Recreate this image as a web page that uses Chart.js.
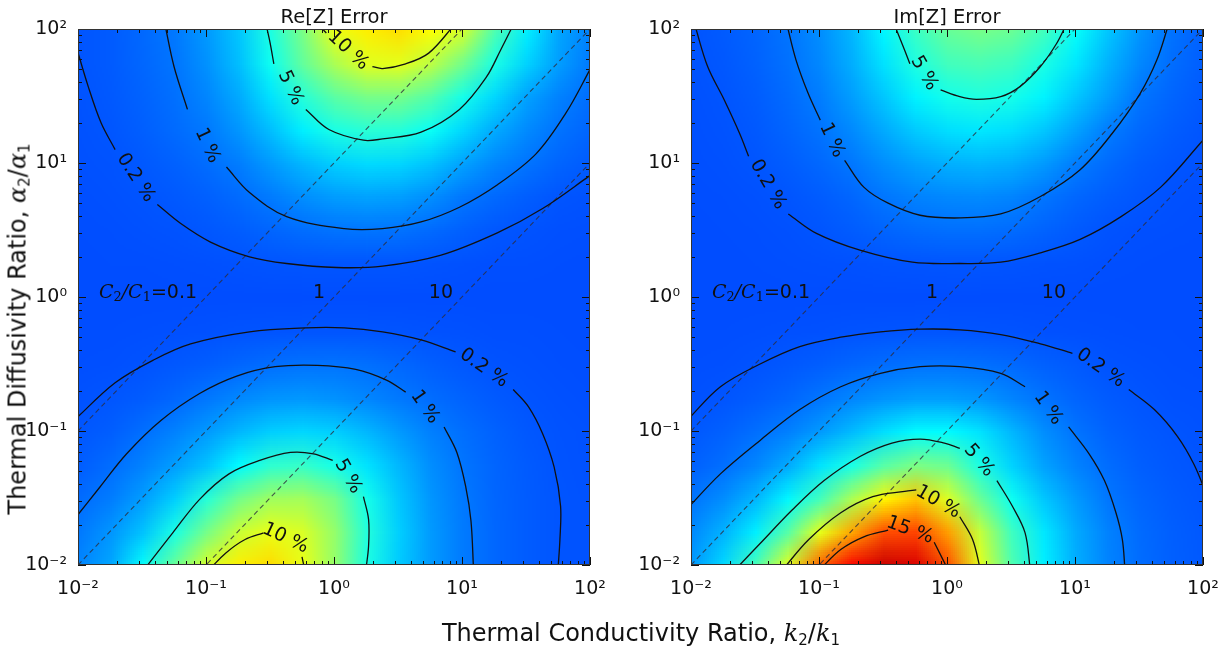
<!DOCTYPE html>
<html>
<head>
<meta charset="utf-8">
<script src="https://cdn.jsdelivr.net/npm/chart.js@4.4.1/dist/chart.umd.min.js"></script>
<style>
    body { margin: 0; background: #fff; width: 1228px; height: 656px; position: relative; overflow: hidden; font-family: "DejaVu Sans", sans-serif; color: #111; }
    canvas { position: absolute; top: 0; }
    .ptitle { position: absolute; top: 5px; width: 240px; text-align: center; font-size: 19.5px; line-height: 24px; }
    .axtitle { position: absolute; font-size: 24px; line-height: 28px; white-space: nowrap; }
    .m { font-family: "DejaVu Serif", serif; font-style: italic; }
    .axtitle sub { font-size: 15px; font-style: normal; vertical-align: -4px; }
</style>
</head>
<body>
<canvas id="chartRe" width="614" height="656" style="left:0"></canvas>
<canvas id="chartIm" width="614" height="656" style="left:614px"></canvas>
<div class="ptitle" style="left:214px">Re[Z] Error</div>
<div class="ptitle" style="left:827px">Im[Z] Error</div>
<div class="axtitle" style="left:641px;top:636px;transform:translate(-50%,-50%)">Thermal Conductivity Ratio, <span class="m">k</span><sub>2</sub>/<span class="m">k</span><sub>1</sub></div>
<div class="axtitle" style="left:21px;top:329px;transform:translate(-50%,-50%) rotate(-90deg)">Thermal Diffusivity Ratio, <span class="m">α</span><sub>2</sub>/<span class="m">α</span><sub>1</sub></div>

<script>
// grid exponents (log10) for both axes, and axis ticks
var gridExp = [-2, -1.75, -1.5, -1.25, -1, -0.75, -0.5, -0.25, 0, 0.25, 0.5, 0.75, 1, 1.25, 1.5, 1.75, 2];
var tickValues = [0.01, 0.1, 1, 10, 100];
var tickLabels = ['10⁻²', '10⁻¹', '10⁰', '10¹', '10²'];

// heat capacity ratios of the dashed lines
var cRatios = [0.1, 1, 10];
var cLabels = ['=0.1', '1', '10'];

// error (%) on the grid, rows from alpha ratio 10^2 (top) down to 10^-2
var reError = [
    [0.20, 0.35, 0.70, 1.10, 1.90, 3.00, 5.10, 7.40, 10.2, 11.0, 11.4, 10.6, 9.60, 6.30, 4.00, 2.20, 1.30],
    [0.22, 0.35, 0.65, 1.00, 1.70, 2.80, 4.70, 6.80, 8.60, 9.90, 10.0, 9.00, 7.20, 5.00, 3.30, 2.00, 1.10],
    [0.17, 0.30, 0.55, 0.88, 1.40, 2.30, 3.70, 5.30, 6.60, 7.30, 7.30, 6.40, 4.90, 3.40, 2.10, 1.30, 0.80],
    [0.14, 0.24, 0.45, 0.75, 1.10, 1.80, 2.80, 4.00, 5.00, 5.40, 5.30, 4.60, 3.40, 2.30, 1.50, 0.95, 0.60],
    [0.11, 0.17, 0.30, 0.50, 0.80, 1.20, 1.90, 2.60, 3.20, 3.50, 3.40, 2.90, 2.10, 1.40, 0.98, 0.60, 0.35],
    [0.07, 0.11, 0.18, 0.30, 0.48, 0.75, 1.15, 1.60, 1.95, 2.10, 2.00, 1.60, 1.05, 0.70, 0.42, 0.22, 0.13],
    [0.04, 0.06, 0.10, 0.16, 0.25, 0.40, 0.60, 0.80, 0.95, 1.00, 0.92, 0.72, 0.48, 0.25, 0.15, 0.08, 0.05],
    [0.02, 0.03, 0.04, 0.06, 0.09, 0.13, 0.18, 0.20, 0.21, 0.21, 0.20, 0.16, 0.11, 0.07, 0.05, 0.03, 0.02],
    [0.01, 0.01, 0.01, 0.01, 0.01, 0.01, 0.01, 0.01, 0.01, 0.01, 0.01, 0.01, 0.01, 0.01, 0.01, 0.01, 0.01],
    [0.03, 0.04, 0.06, 0.08, 0.11, 0.15, 0.19, 0.20, 0.21, 0.20, 0.18, 0.14, 0.10, 0.07, 0.05, 0.03, 0.02],
    [0.06, 0.09, 0.16, 0.27, 0.42, 0.62, 0.82, 0.95, 0.96, 0.86, 0.68, 0.45, 0.28, 0.16, 0.10, 0.07, 0.04],
    [0.13, 0.23, 0.38, 0.65, 1.05, 1.45, 1.75, 1.85, 1.70, 1.40, 1.10, 0.80, 0.55, 0.33, 0.18, 0.11, 0.07],
    [0.25, 0.42, 0.85, 1.30, 1.90, 2.60, 3.20, 3.40, 3.20, 2.60, 1.90, 1.25, 0.85, 0.52, 0.28, 0.16, 0.10],
    [0.40, 0.80, 1.30, 2.00, 2.90, 4.30, 5.50, 5.70, 4.90, 3.70, 2.60, 1.60, 1.00, 0.60, 0.35, 0.19, 0.12],
    [0.75, 1.20, 2.00, 3.20, 5.30, 7.20, 8.30, 8.40, 7.30, 4.90, 3.00, 1.80, 1.10, 0.62, 0.37, 0.21, 0.13],
    [1.10, 1.80, 2.90, 5.00, 7.30, 9.30, 10.1, 9.70, 8.00, 5.20, 3.20, 1.90, 1.15, 0.65, 0.38, 0.22, 0.14],
    [1.40, 2.20, 4.50, 7.00, 9.70, 11.0, 11.5, 10.1, 8.00, 5.00, 3.10, 1.90, 1.15, 0.65, 0.38, 0.21, 0.13]
];
var imError = [
    [0.19, 0.35, 0.60, 0.98, 1.60, 2.60, 4.20, 5.80, 6.90, 7.30, 7.00, 6.00, 4.50, 3.00, 1.80, 0.95, 0.50],
    [0.15, 0.28, 0.52, 0.90, 1.45, 2.40, 3.70, 5.10, 6.00, 6.20, 5.90, 5.00, 3.80, 2.50, 1.45, 0.80, 0.42],
    [0.12, 0.20, 0.40, 0.75, 1.20, 2.00, 3.00, 4.10, 4.85, 5.10, 4.90, 4.10, 3.00, 2.00, 1.00, 0.60, 0.30],
    [0.08, 0.15, 0.30, 0.60, 0.95, 1.50, 2.30, 3.10, 3.60, 3.80, 3.60, 3.00, 2.10, 1.20, 0.70, 0.40, 0.20],
    [0.05, 0.10, 0.20, 0.40, 0.68, 1.05, 1.60, 2.10, 2.45, 2.55, 2.40, 1.90, 1.20, 0.75, 0.40, 0.24, 0.14],
    [0.03, 0.06, 0.12, 0.22, 0.38, 0.62, 1.02, 1.30, 1.45, 1.50, 1.35, 1.00, 0.65, 0.40, 0.23, 0.12, 0.07],
    [0.02, 0.03, 0.06, 0.12, 0.22, 0.38, 0.58, 0.75, 0.85, 0.85, 0.75, 0.55, 0.33, 0.17, 0.09, 0.05, 0.03],
    [0.01, 0.02, 0.03, 0.05, 0.08, 0.12, 0.16, 0.19, 0.20, 0.20, 0.18, 0.14, 0.10, 0.06, 0.04, 0.02, 0.01],
    [0.01, 0.01, 0.01, 0.01, 0.01, 0.01, 0.01, 0.01, 0.01, 0.01, 0.01, 0.01, 0.01, 0.01, 0.01, 0.01, 0.01],
    [0.03, 0.04, 0.06, 0.08, 0.11, 0.15, 0.18, 0.20, 0.20, 0.19, 0.16, 0.12, 0.09, 0.06, 0.04, 0.03, 0.02],
    [0.06, 0.09, 0.17, 0.28, 0.43, 0.62, 0.80, 0.92, 0.95, 0.88, 0.72, 0.50, 0.32, 0.17, 0.10, 0.06, 0.04],
    [0.12, 0.22, 0.38, 0.62, 1.00, 1.40, 1.75, 2.00, 2.00, 1.80, 1.35, 0.95, 0.60, 0.36, 0.21, 0.12, 0.08],
    [0.28, 0.50, 0.85, 1.25, 1.90, 2.70, 3.60, 4.30, 4.30, 3.70, 2.60, 1.60, 0.96, 0.55, 0.34, 0.21, 0.13],
    [0.50, 0.85, 1.40, 2.30, 3.70, 5.00, 6.50, 7.40, 7.00, 5.00, 3.30, 2.10, 1.30, 0.80, 0.45, 0.28, 0.18],
    [1.00, 1.60, 2.60, 4.20, 6.00, 8.60, 10.8, 12.0, 9.80, 7.00, 4.70, 3.00, 1.90, 1.05, 0.62, 0.37, 0.24],
    [1.50, 2.50, 4.00, 6.50, 10.0, 12.8, 15.0, 15.2, 13.0, 9.20, 5.90, 3.80, 2.30, 1.30, 0.75, 0.45, 0.28],
    [1.90, 3.50, 6.20, 10.0, 14.6, 17.0, 18.2, 17.8, 15.0, 10.0, 6.30, 4.00, 2.40, 1.35, 0.80, 0.48, 0.30]
];

// contour lines as [log10 k2/k1, log10 a2/a1]; null = gap under the label
var reTop10 = [[-0.12, 2.03], [-0.06, 1.97], null, [0.30, 1.72], [0.38, 1.705], [0.56, 1.74], [0.74, 1.82], [0.94, 2.03]];
var reTop5 = [[-0.53, 2.03], [-0.50, 1.90], [-0.47, 1.74], null, [-0.22, 1.40], [-0.04, 1.25], [0.23, 1.17], [0.38, 1.18], [0.68, 1.23], [0.98, 1.40], [1.19, 1.64], [1.30, 1.84], [1.40, 2.03]];
var reTop1 = [[-1.32, 2.03], [-1.25, 1.72], [-1.145, 1.40], null, [-0.84, 0.97], [-0.66, 0.78], [-0.37, 0.60], [0.08, 0.51], [0.38, 0.51], [0.68, 0.56], [0.98, 0.67], [1.28, 0.84], [1.58, 1.07], [1.81, 1.37], [1.99, 1.68], [2.03, 1.76]];
var reTop02 = [[-2.03, 1.92], [-1.92, 1.57], [-1.82, 1.30], [-1.71, 1.10], null, [-1.38, 0.69], [-1.20, 0.55], [-0.965, 0.41], [-0.66, 0.30], [-0.37, 0.25], [0.02, 0.22], [0.38, 0.23], [0.83, 0.31], [1.28, 0.48], [1.63, 0.66], [1.99, 0.90], [2.03, 0.93]];
var reBot02 = [[-2.03, -0.92], [-1.71, -0.64], [-1.41, -0.47], [-1.12, -0.35], [-0.66, -0.26], [-0.22, -0.23], [0.08, -0.23], [0.38, -0.26], [0.68, -0.32], [0.95, -0.41], null, [1.40, -0.69], [1.52, -0.82], [1.63, -1.02], [1.72, -1.27], [1.77, -1.56], [1.765, -1.81], [1.75, -2.03]];
var reBot1 = [[-2.03, -1.66], [-1.83, -1.42], [-1.62, -1.17], [-1.35, -0.92], [-1.05, -0.72], [-0.76, -0.59], [-0.46, -0.52], [-0.13, -0.51], [0.17, -0.54], [0.41, -0.62], [0.56, -0.71], null, [0.86, -0.97], [0.96, -1.16], [1.03, -1.42], [1.07, -1.67], [1.09, -2.03]];
var reBot5 = [[-1.48, -2.03], [-1.26, -1.76], [-1.05, -1.51], [-0.82, -1.32], [-0.58, -1.22], [-0.34, -1.16], [-0.16, -1.17], [-0.01, -1.22], null, [0.23, -1.49], [0.27, -1.66], [0.27, -1.86], [0.25, -2.03]];
var reBot10 = [[-0.97, -2.03], [-0.845, -1.91], [-0.695, -1.81], [-0.55, -1.76], null, [-0.25, -1.94], [-0.23, -2.03]];

var imTop5 = [[-0.41, 2.03], [-0.33, 1.84], [-0.29, 1.74], null, [-0.05, 1.545], [0.10, 1.495], [0.23, 1.475], [0.42, 1.495], [0.57, 1.57], [0.73, 1.72], [0.855, 1.89], [0.93, 2.03]];
var imTop1 = [[-1.25, 2.03], [-1.18, 1.77], [-1.085, 1.52], [-0.99, 1.32], null, [-0.80, 1.02], [-0.65, 0.82], [-0.46, 0.70], [-0.21, 0.61], [0.10, 0.59], [0.42, 0.62], [0.73, 0.75], [1.04, 0.95], [1.29, 1.22], [1.51, 1.52], [1.64, 1.77], [1.73, 2.03]];
var imTop02 = [[-1.97, 2.03], [-1.87, 1.72], [-1.74, 1.47], [-1.62, 1.22], [-1.55, 1.05], null, [-1.24, 0.62], [-1.02, 0.475], [-0.68, 0.35], [-0.27, 0.26], [0.10, 0.25], [0.42, 0.26], [0.73, 0.33], [1.04, 0.43], [1.36, 0.60], [1.67, 0.82], [2.0, 1.17], [2.03, 1.2]];
var imBot02 = [[-2.03, -0.92], [-1.77, -0.67], [-1.46, -0.50], [-1.15, -0.37], [-0.83, -0.30], [-0.52, -0.26], [-0.21, -0.24], [0.10, -0.245], [0.42, -0.28], [0.73, -0.35], [0.98, -0.42], null, [1.42, -0.69], [1.62, -0.84], [1.80, -1.04], [1.93, -1.25], [2.03, -1.48]];
var imBot1 = [[-2.03, -1.58], [-1.77, -1.32], [-1.46, -1.07], [-1.15, -0.84], [-0.83, -0.67], [-0.52, -0.57], [-0.21, -0.52], [0.10, -0.52], [0.42, -0.57], [0.61, -0.67], null, [0.95, -0.97], [1.11, -1.17], [1.23, -1.37], [1.32, -1.61], [1.37, -1.81], [1.39, -2.03]];
var imBot5 = [[-1.65, -2.03], [-1.46, -1.84], [-1.21, -1.59], [-0.96, -1.37], [-0.68, -1.19], [-0.43, -1.09], [-0.21, -1.06], [-0.02, -1.09], [0.10, -1.13], null, [0.39, -1.37], [0.51, -1.56], [0.61, -1.76], [0.65, -2.03]];
var imBot10 = [[-1.28, -2.03], [-1.08, -1.81], [-0.83, -1.61], [-0.58, -1.49], [-0.33, -1.45], [-0.24, -1.44], null, [0.10, -1.64], [0.20, -1.81], [0.26, -2.03]];
var imBot15 = [[-0.99, -2.03], [-0.83, -1.885], [-0.65, -1.79], [-0.46, -1.74], null, [-0.10, -1.83], [0.005, -2.03]];

// contour labels: [log10 k, log10 a, rotation deg, text]
var reLabels = [[0.11, 1.84, 43, '10 %'], [-0.34, 1.56, 65, '5 %'], [-0.99, 1.13, 65, '1 %'], [-1.55, 0.89, 57, '0.2 %'],
    [1.17, -0.53, 35, '0.2 %'], [0.71, -0.82, 55, '1 %'], [0.11, -1.34, 60, '5 %'], [-0.38, -1.80, 25, '10 %']];
var imLabels = [[-0.18, 1.67, 60, '5 %'], [-0.90, 1.17, 65, '1 %'], [-1.40, 0.84, 60, '0.2 %'],
    [1.20, -0.53, 35, '0.2 %'], [0.79, -0.83, 55, '1 %'], [0.25, -1.22, 50, '5 %'], [-0.07, -1.53, 30, '10 %'], [-0.29, -1.74, 20, '15 %']];

var colorMin = -5, colorMax = 20;

function jet(v) {
    var t = Math.min(1, Math.max(0, (v - colorMin) / (colorMax - colorMin)));
    function c(x) { return Math.round(255 * Math.min(1, Math.max(0, x))); }
    return [c(Math.min(4 * t - 1.5, -4 * t + 4.5)), c(Math.min(4 * t - 0.5, -4 * t + 3.5)), c(Math.min(4 * t + 0.5, -4 * t + 2.5))];
}

function toPoints(list) {
    return list.map(function (p, i) {
        if (p === null) return { x: Math.pow(10, list[i - 1][0]), y: null };
        return { x: Math.pow(10, p[0]), y: Math.pow(10, p[1]) };
    });
}

var heatmapPlugin = {
    id: 'heatmap',
    beforeDatasetsDraw: function (chart, args, opts) {
        var n = gridExp.length;
        var off = document.createElement('canvas');
        off.width = n;
        off.height = n;
        var octx = off.getContext('2d');
        var img = octx.createImageData(n, n);
        for (var i = 0; i < n; i++) {
            for (var j = 0; j < n; j++) {
                var col = jet(opts.values[i][j]);
                var k = (i * n + j) * 4;
                img.data[k] = col[0];
                img.data[k + 1] = col[1];
                img.data[k + 2] = col[2];
                img.data[k + 3] = 255;
            }
        }
        octx.putImageData(img, 0, 0);

        var xs = chart.scales.x, ys = chart.scales.y, a = chart.chartArea;
        var half = (gridExp[1] - gridExp[0]) / 2;
        var x0 = xs.getPixelForValue(Math.pow(10, gridExp[0] - half));
        var x1 = xs.getPixelForValue(Math.pow(10, gridExp[n - 1] + half));
        var y0 = ys.getPixelForValue(Math.pow(10, gridExp[n - 1] + half));
        var y1 = ys.getPixelForValue(Math.pow(10, gridExp[0] - half));
        var ctx = chart.ctx;
        ctx.save();
        ctx.beginPath();
        ctx.rect(a.left, a.top, a.width, a.height);
        ctx.clip();
        ctx.imageSmoothingEnabled = true;
        ctx.imageSmoothingQuality = 'low';
        ctx.drawImage(off, x0, y0, x1 - x0, y1 - y0);
        ctx.restore();
    }
};

function drawRich(ctx, parts, xRight, yMid) {
    var total = 0;
    parts.forEach(function (p) { ctx.font = p.font; total += ctx.measureText(p.t).width; });
    var x = xRight - total;
    ctx.textAlign = 'left';
    ctx.textBaseline = 'middle';
    parts.forEach(function (p) {
        ctx.font = p.font;
        ctx.fillText(p.t, x, yMid + (p.dy || 0));
        x += ctx.measureText(p.t).width;
    });
}

var overlayPlugin = {
    id: 'overlay',
    afterDatasetsDraw: function (chart, args, opts) {
        var ctx = chart.ctx, a = chart.chartArea, xs = chart.scales.x, ys = chart.scales.y;
        ctx.save();
        ctx.fillStyle = '#111';

        // contour labels
        opts.labels.forEach(function (l) {
            var px = xs.getPixelForValue(Math.pow(10, l[0]));
            var py = ys.getPixelForValue(Math.pow(10, l[1]));
            ctx.save();
            ctx.translate(px, py);
            ctx.rotate(l[2] * Math.PI / 180);
            ctx.font = '19px "DejaVu Sans"';
            ctx.textAlign = 'center';
            ctx.textBaseline = 'middle';
            ctx.fillText(l[3], 0, 0);
            ctx.restore();
        });

        // C2/C1 labels next to the dashed lines
        var it = 'italic 19px "DejaVu Serif"', sub = '13px "DejaVu Serif"', sans = '19px "DejaVu Sans"';
        cRatios.forEach(function (c, i) {
            var xr = xs.getPixelForValue(c * Math.pow(10, -0.07));
            var ym = ys.getPixelForValue(Math.pow(10, 0.03));
            var parts = [];
            if (i === 0) {
                parts = [{ t: 'C', font: it }, { t: '2', font: sub, dy: 5 }, { t: '/', font: it },
                    { t: 'C', font: it }, { t: '1', font: sub, dy: 5 }];
            }
            parts.push({ t: cLabels[i], font: sans });
            drawRich(ctx, parts, xr, ym);
        });

        // inward ticks on all sides
        ctx.strokeStyle = '#111';
        ctx.lineWidth = 1;
        ctx.beginPath();
        for (var e = -2; e <= 1; e++) {
            for (var m = 1; m <= 10; m++) {
                var v = m * Math.pow(10, e);
                var len = (m === 1 || m === 10) ? 8 : 4;
                var px = Math.round(xs.getPixelForValue(v)) + 0.5;
                var py = Math.round(ys.getPixelForValue(v)) + 0.5;
                ctx.moveTo(px, a.bottom); ctx.lineTo(px, a.bottom - len);
                ctx.moveTo(px, a.top); ctx.lineTo(px, a.top + len);
                ctx.moveTo(a.left, py); ctx.lineTo(a.left + len, py);
                ctx.moveTo(a.right, py); ctx.lineTo(a.right - len, py);
            }
        }
        ctx.stroke();

        // frame
        ctx.strokeStyle = '#333';
        ctx.strokeRect(a.left + 0.5, a.top + 0.5, a.width - 1, a.height - 1);
        ctx.restore();
    }
};

function makeChart(id, values, contours, labels, padL, padR) {
    var datasets = [];
    contours.forEach(function (c) {
        datasets.push({
            data: toPoints(c),
            borderColor: '#111',
            borderWidth: 1.3,
            pointRadius: 0,
            tension: 0.35,
            fill: false,
            spanGaps: false
        });
    });
    cRatios.forEach(function (c) {
        datasets.push({
            data: [{ x: 0.01, y: 0.01 / c }, { x: 100, y: 100 / c }],
            borderColor: 'rgba(45,45,60,0.8)',
            borderWidth: 1.1,
            borderDash: [5, 3.5],
            pointRadius: 0,
            tension: 0,
            fill: false
        });
    });

    var tickFont = { family: 'DejaVu Sans', size: 19 };
    return new Chart(document.getElementById(id), {
        type: 'line',
        data: { datasets: datasets },
        options: {
            responsive: false,
            animation: false,
            events: [],
            layout: { padding: { top: 29, left: padL, right: padR, bottom: 51 } },
            plugins: {
                legend: { display: false },
                tooltip: { enabled: false },
                heatmap: { values: values },
                overlay: { labels: labels }
            },
            scales: {
                x: {
                    type: 'logarithmic',
                    min: 0.01,
                    max: 100,
                    grid: { display: false },
                    border: { display: false },
                    afterBuildTicks: function (s) { s.ticks = tickValues.map(function (v) { return { value: v }; }); },
                    afterFit: function (s) { s.height = 40; },
                    ticks: {
                        font: tickFont, color: '#111', padding: 5, maxRotation: 0, autoSkip: false,
                        callback: function (v, i) { return tickLabels[i]; }
                    }
                },
                y: {
                    type: 'logarithmic',
                    min: 0.01,
                    max: 100,
                    grid: { display: false },
                    border: { display: false },
                    afterBuildTicks: function (s) { s.ticks = tickValues.map(function (v) { return { value: v }; }); },
                    afterFit: function (s) { s.width = 60; },
                    ticks: {
                        font: tickFont, color: '#111', padding: 3, autoSkip: false,
                        callback: function (v, i) { return tickLabels[i]; }
                    }
                }
            }
        },
        plugins: [heatmapPlugin, overlayPlugin]
    });
}

makeChart('chartRe', reError, [reTop10, reTop5, reTop1, reTop02, reBot02, reBot1, reBot5, reBot10], reLabels, 18, 24);
makeChart('chartIm', imError, [imTop5, imTop1, imTop02, imBot02, imBot1, imBot5, imBot10, imBot15], imLabels, 17, 25);
</script>
</body>
</html>
